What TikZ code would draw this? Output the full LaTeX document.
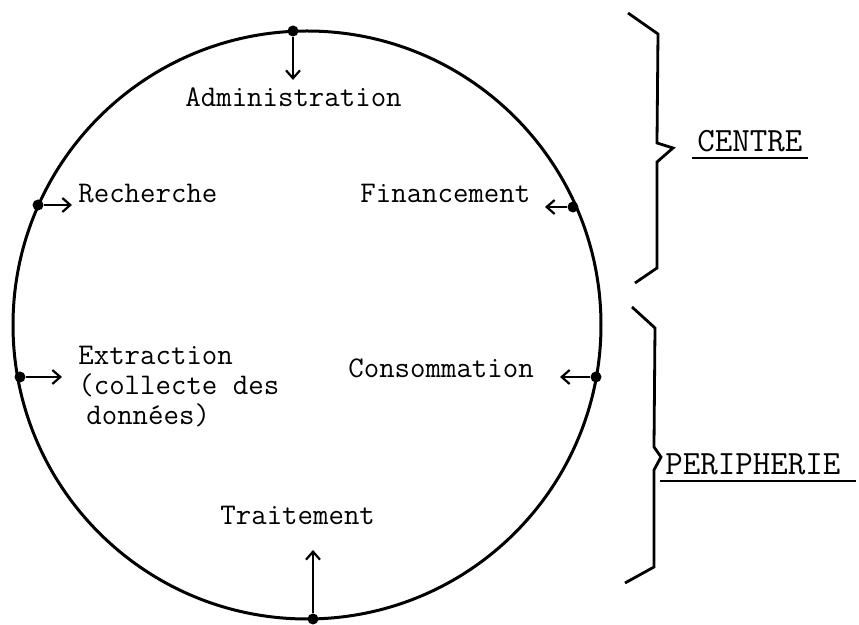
\documentclass[tikz,border=0pt]{standalone}
\usepackage{fontspec}
\usetikzlibrary{arrows.meta}

\begin{document}
\begin{tikzpicture}[x=0.5pt,y=-0.5pt,
  word node/.style={anchor=base west,inner sep=1pt,font=\ttfamily\fontsize{15}{15}\selectfont},
  side node/.style={anchor=base west,inner sep=2.5pt,font=\ttfamily\fontsize{17}{17}\selectfont},
  dot node/.style={circle,fill,inner sep=0pt,minimum size=5.5pt},
  link/.style={line width=1.1pt,-{Straight Barb[length=4pt,width=7pt,line width=1.1pt]}},
  brace/.style={line width=1.4pt,line join=miter}]
  \useasboundingbox (0,0) rectangle (859,625);

  \draw[line width=1.5pt] (307,325) circle [radius=294];

  \node[dot node] (d0) at (293,31) {};
  \node[dot node] (d1) at (38,205) {};
  \node[dot node] (d2) at (573,207) {};
  \node[dot node] (d3) at (20,377) {};
  \node[dot node] (d4) at (596,377) {};
  \node[dot node] (d5) at (313,619) {};

  \coordinate (e0) at (293,80);
  \coordinate (e1) at (72,205);
  \coordinate (e2) at (545,207);
  \coordinate (e3) at (62,377);
  \coordinate (e4) at (560,377);
  \coordinate (e5) at (313,550);

  \node[word node] (admin) at (183,107) {Administration};
  \node[word node] (rech) at (76,203) {Recherche};
  \node[word node] (fin) at (358,203) {Financement};
  \node[word node,align=left] (extr) at (76,425) {Extraction\\(collecte des\\\hspace*{4pt}données)};
  \node[word node] (cons) at (346,378) {Consommation};
  \node[word node] (trait) at (218,525) {Traitement};

 \path (d0) [link] edge (e0);
 \path (d1) [link] edge (e1);
 \path (d2) [link] edge (e2);
 \path (d3) [link] edge (e3);
 \path (d4) [link] edge (e4);
 \path (d5) [link] edge (e5);

 % accolades
 \draw[brace] (628,13) -- (658,34) -- (657,143) -- (673,148) -- (657,162) -- (657,268) -- (635,283);
 \draw[brace] (632,307) -- (655,328) -- (654,447) -- (661,457) -- (654,470) -- (654,567) -- (625,583);

  \node[side node] (centre) at (692,152) {CENTRE};
  \node[side node] (peri) at (660,475) {PERIPHERIE};
 \draw[line width=1.1pt] (centre.south west) -- (centre.south east);
 \draw[line width=1.1pt] (peri.south west) -- ([xshift=5pt]peri.south east);
\end{tikzpicture}
\end{document}
